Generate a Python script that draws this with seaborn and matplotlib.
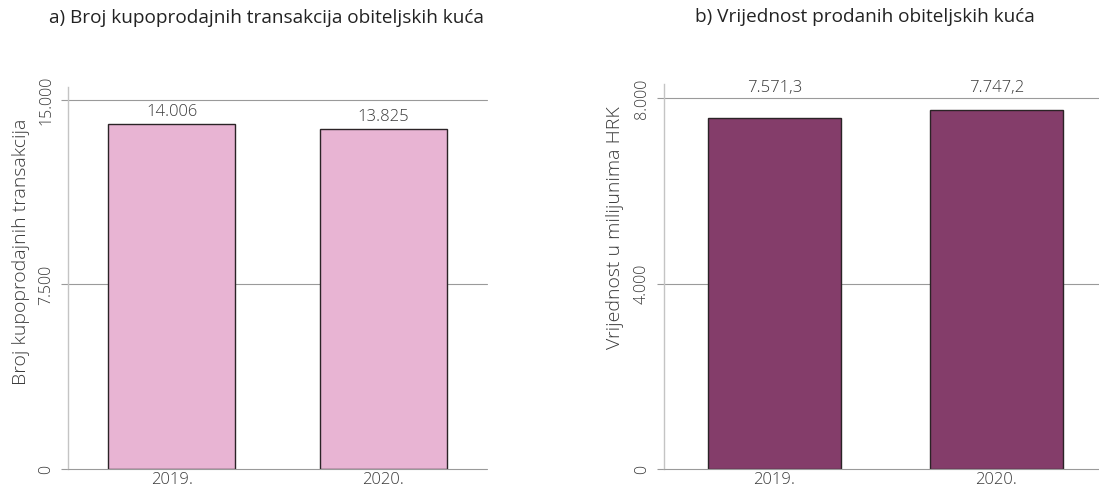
import matplotlib
matplotlib.use("Agg")
import matplotlib.pyplot as plt
import seaborn as sns
import pandas as pd

years = ["2019.", "2020."]
transactions = [14006, 13825]
value_mhrk = [7571.3, 7747.2]
labels_a = ["14.006", "13.825"]
labels_b = ["7.571,3", "7.747,2"]
ticks_a = [0, 7500, 15000]
ticks_b = [0, 4000, 8000]
ticklabels_a = ["0", "7.500", "15.000"]
ticklabels_b = ["0", "4.000", "8.000"]

sns.set_theme(style="white")
plt.rcParams["font.family"] = ["Open Sans", "DejaVu Sans"]
plt.rcParams["font.weight"] = "light"

fig = plt.figure(figsize=(10.99, 4.99), dpi=100)
W, H = 1099, 499

def px_axes(left, right, top, bottom):
    return fig.add_axes([left / W, 1 - bottom / H, (right - left) / W, (bottom - top) / H])

ax1 = px_axes(68, 487, 87, 469)
ax2 = px_axes(664, 1107, 84, 469)

pink = "#E8B4D3"
purple = "#843D6A"
edge = "#2b2326"
grid_c = "#9a9a9a"
text_c = "#3a3a3a"

def style(ax, ticks, ticklabels, ylim_top, ylabel):
    ax.set_ylim(0, ylim_top)
    ax.set_xlim(-0.49, 1.49)
    ax.set_yticks(ticks)
    ax.set_yticklabels(ticklabels, rotation=90, va="center", fontsize=11.5, color=text_c)
    ax.tick_params(axis="y", length=5, color=grid_c, width=0.8, pad=5, left=True)
    ax.tick_params(axis="x", length=0, pad=2, labelsize=12, labelcolor=text_c)
    for t in ticks:
        ax.axhline(t, color=grid_c, lw=0.8, zorder=0 if t else 3, clip_on=False)
    for s in ["top", "right", "bottom"]:
        ax.spines[s].set_visible(False)
    ax.spines["left"].set_color("#c4c4c4")
    ax.spines["left"].set_linewidth(1.0)
    ax.set_xlabel("")
    ax.set_ylabel(ylabel, fontsize=14, color=text_c, fontweight="light")

df_a = pd.DataFrame({"year": years, "val": transactions})
sns.barplot(data=df_a, x="year", y="val", color=pink, width=0.6,
            edgecolor=edge, linewidth=1.0, saturation=1, ax=ax1, zorder=2)
style(ax1, ticks_a, ticklabels_a, 15528, "Broj kupoprodajnih transakcija")
ax1.yaxis.set_label_coords(-0.09, 0.568)
for i, (v, lab) in enumerate(zip(transactions, labels_a)):
    ax1.text(i, v + 170, lab, ha="center", va="bottom", fontsize=12, color=text_c)

df_b = pd.DataFrame({"year": years, "val": value_mhrk})
sns.barplot(data=df_b, x="year", y="val", color=purple, width=0.6,
            edgecolor=edge, linewidth=1.0, saturation=1, ax=ax2, zorder=2)
style(ax2, ticks_b, ticklabels_b, 8309, "Vrijednost u milijunima HRK")
ax2.set_xlim(-0.498, 1.498)
ax2.yaxis.set_label_coords(-0.09, 0.626)
for i, lab in enumerate(labels_b):
    ax2.text(i, 8060, lab, ha="center", va="bottom", fontsize=12, color=text_c)

fig.text(266 / W, 1 - 18 / H, "a) Broj kupoprodajnih transakcija obiteljskih kuća",
         ha="center", va="center", fontsize=13.7, color="#222222", weight="normal")
fig.text(865 / W, 1 - 17 / H, "b) Vrijednost prodanih obiteljskih kuća",
         ha="center", va="center", fontsize=13.7, color="#222222", weight="normal")

fig.savefig("out.png", dpi=100)
